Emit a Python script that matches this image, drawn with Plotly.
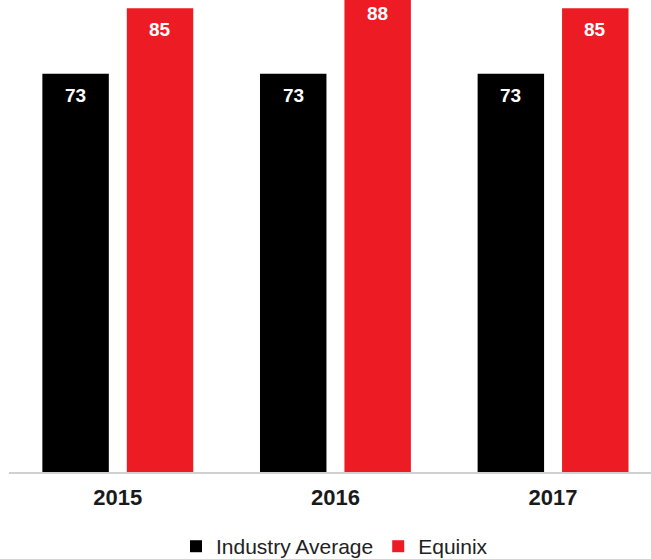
import plotly.graph_objects as go

categories = ["2015", "2016", "2017"]
industry_avg = [73, 73, 73]
equinix = [85, 88, 85]
series_names = ["Industry Average", "Equinix"]
colors = ["#000000", "#ED1C24"]

LABEL_DROP = 3.95   # label offset below bar top, in value units
BAR_SHIFT = 42.25   # px offset of each bar from category centre

fig = go.Figure()
for name, vals, col in zip(series_names, [industry_avg, equinix], colors):
    fig.add_trace(go.Bar(
        x=categories, y=vals, name=name,
        marker=dict(color=col, line=dict(width=0)),
        hoverinfo="x+y",
    ))

annotations = []
for si, vals in enumerate([industry_avg, equinix]):
    for ci, v in enumerate(vals):
        annotations.append(dict(
            x=ci, y=v - LABEL_DROP, xref="x", yref="y",
            text="<b>%d</b>" % v, showarrow=False,
            xshift=(-BAR_SHIFT if si == 0 else BAR_SHIFT),
            font=dict(family="Liberation Sans, Arial, sans-serif", size=19,
                      color="#FFFFFF"),
            xanchor="center", yanchor="middle",
        ))

fig.update_layout(
    width=651, height=559,
    margin=dict(l=9, r=0, t=0, b=87, autoexpand=False),
    paper_bgcolor="white", plot_bgcolor="white",
    barmode="group", bargap=0.224, bargroupgap=0.213,
    showlegend=True,
    legend=dict(orientation="h", x=0.507, xanchor="center", y=-0.158,
                yanchor="middle",
                font=dict(family="Liberation Sans, Arial, sans-serif", size=21,
                          color="#222222"),
                bgcolor="rgba(0,0,0,0)"),
    xaxis=dict(type="category", range=[-0.5, 2.45], showgrid=False,
               showline=True, linecolor="#D0D0D0", linewidth=2,
               ticks="", zeroline=False, ticklabelstandoff=5,
               tickfont=dict(family="Liberation Sans, Arial, sans-serif",
                             size=22, color="#1a1a1a", weight="bold")),
    yaxis=dict(range=[0, 86.5], visible=False, showgrid=False, zeroline=False),
    annotations=annotations,
    font=dict(family="Liberation Sans, Arial, sans-serif"),
)

fig.write_html("out.html",
               config={"displayModeBar": False},
               post_script="document.body.style.margin='0';document.body.style.overflow='hidden';")
